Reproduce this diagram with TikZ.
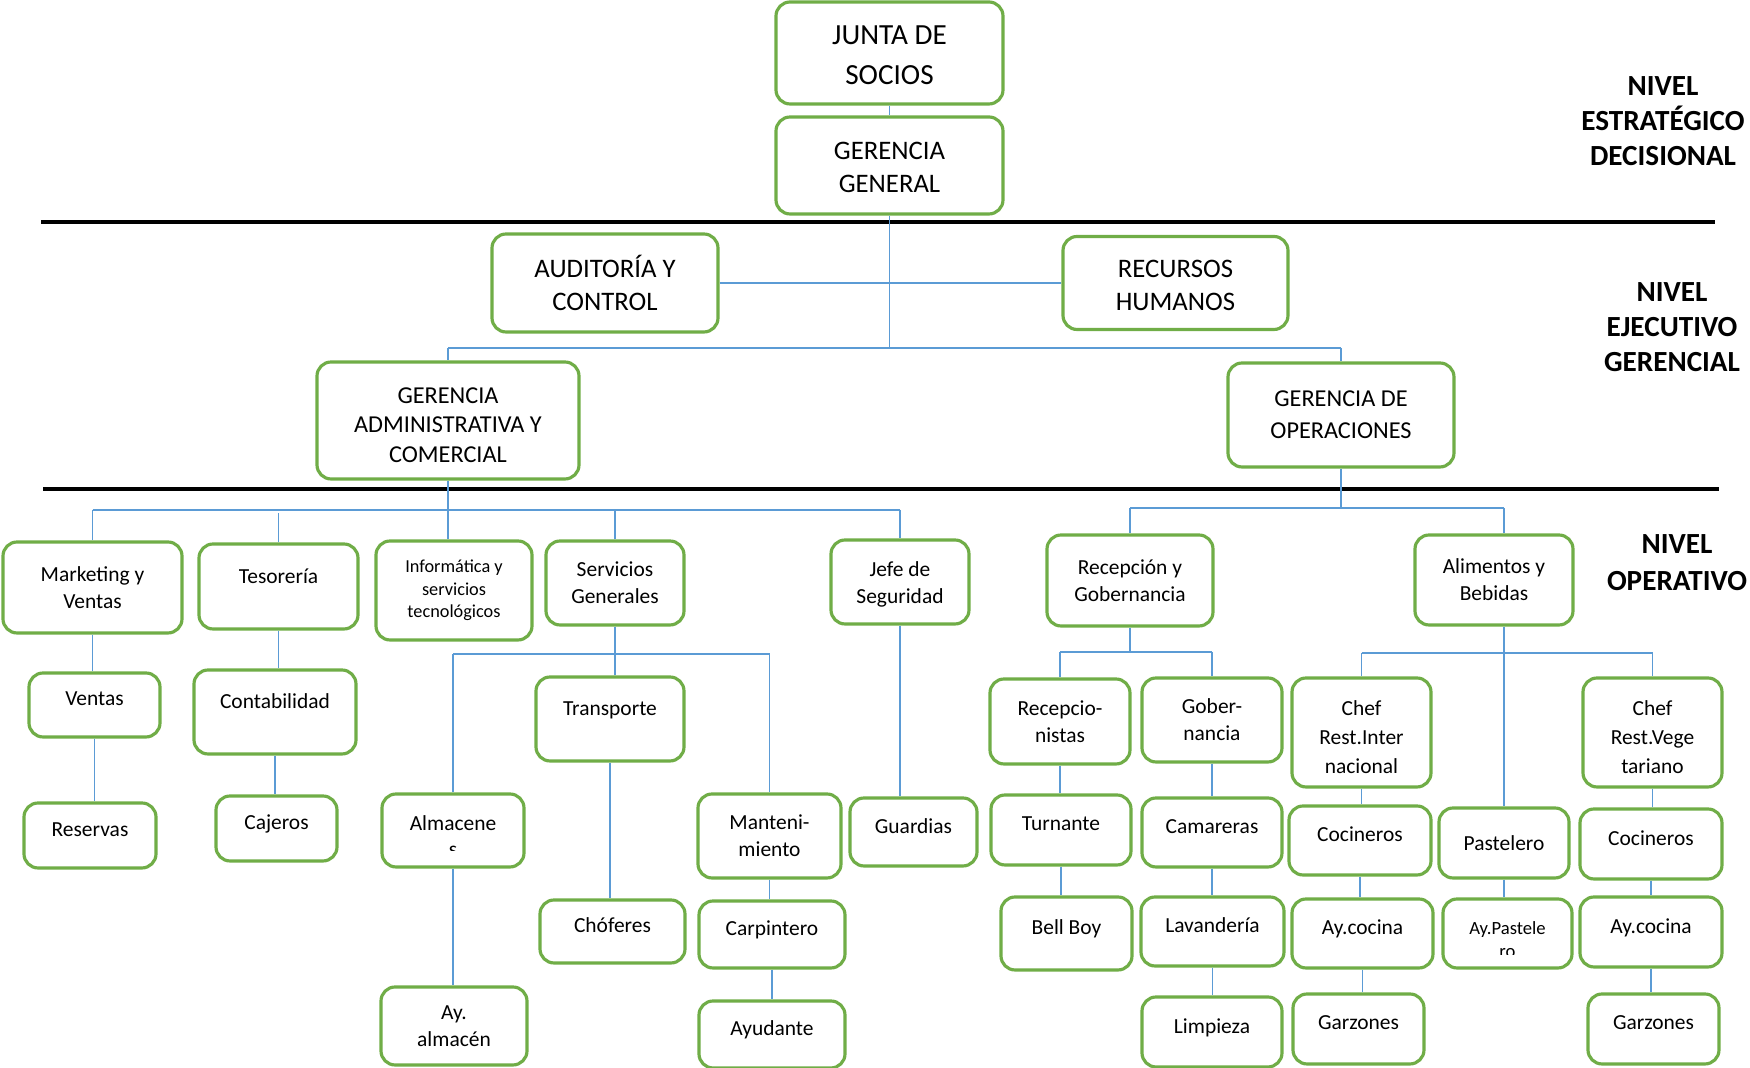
\documentclass[tikz,border=0pt]{standalone}
\usepackage{fontspec}
\setmainfont{Carlito}
\definecolor{boxgreen}{HTML}{70AD47}
\definecolor{linkblue}{HTML}{5B9BD5}
\newcommand{\tall}[1]{\rule{0pt}{#1}}
\tikzset{box/.style={rectangle,draw=boxgreen,line width=0.9pt,rounded corners=4pt,fill=white,align=center,inner sep=1pt}}
\tikzset{sz/.style 2 args={minimum width=#1*0.01cm,minimum height=#2*0.01cm}}
\tikzset{topfont/.style={font=\fontsize{7.6}{9.4}\selectfont}}
\tikzset{lowfont/.style={font=\fontsize{6.1}{7.7}\selectfont}}
\tikzset{cheffont/.style={font=\fontsize{6.1}{8.2}\selectfont}}
\tikzset{lift/.style={text depth=#1},lift/.default=3.4pt}
\tikzset{link/.style={draw=linkblue,line width=0.5pt}}
\tikzset{bus/.style={draw=linkblue,line width=0.65pt}}
\tikzset{rule/.style={draw=black,line width=1.1pt}}
\tikzset{lvl/.style={align=center,font=\bfseries\fontsize{8.3}{10}\selectfont}}

\begin{document}
\begin{tikzpicture}[x=0.01cm,y=-0.01cm]
      \useasboundingbox (0,0) rectangle (1750,1068);
        \draw[rule] (41,222) -- (1715,222);
        \draw[rule] (43,489) -- (1719,489);
      \node[lvl] (lvlA) at (1663,121) {NIVEL\\ESTRATÉGICO\\DECISIONAL};
      \node[lvl] (lvlB) at (1672,327) {NIVEL\\EJECUTIVO\\GERENCIAL};
      \node[lvl,font=\bfseries\fontsize{8.3}{10.5}\selectfont] (lvlC) at (1677,563) {NIVEL\\OPERATIVO};

      \node[box,sz={227}{102},font=\fontsize{8.3}{11.1}\selectfont] (junta) at (889.5,53) {\tall{6.6pt}JUNTA DE\\SOCIOS};
      \node[box,sz={227}{97},topfont] (gg) at (889.5,165.5) {\tall{6.2pt}GERENCIA\\GENERAL};
      \node[box,sz={226}{98},topfont] (audit) at (605,283) {AUDITORÍA Y\\CONTROL};
      \node[box,sz={225}{93},topfont] (rrhh) at (1175.5,283) {\tall{6.2pt}RECURSOS\\HUMANOS};
      \node[box,sz={262}{117},font=\fontsize{6.9}{8.4}\selectfont] (gac) at (448,420.5) {\tall{7pt}GERENCIA\\ADMINISTRATIVA Y\\COMERCIAL};
      \node[box,sz={226}{104},font=\fontsize{6.9}{9.1}\selectfont] (gop) at (1341,415) {GERENCIA DE\\OPERACIONES};
      \coordinate (busA) at (0,348);
        \draw[link] (junta) -- (gg);
        \draw[link] (gg.south) -- (gg.south |- busA);
        \draw[link] (audit) -- (rrhh);
        \draw[bus] (gac.north |- busA) -- (gop.north |- busA);
        \draw[link] (gac.north |- busA) -- (gac.north);
        \draw[link] (gop.north |- busA) -- (gop.north);

      \node[box,sz={179}{91},lowfont] (mkt) at (92.5,587.5) {Marketing y\\Ventas};
      \node[box,sz={159}{85},lowfont,lift=6pt] (teso) at (278.5,586.5) {Tesorería};
      \node[box,sz={156}{99},font=\fontsize{5.2}{6.4}\selectfont] (info) at (454,590.5) {Informática y\\servicios\\tecnológicos};
      \node[box,sz={138}{84},lowfont] (sg) at (615,583) {Servicios\\Generales};
      \node[box,sz={138}{84},lowfont] (jefe) at (900,582) {\tall{5.6pt}Jefe de\\Seguridad};
      \node[box,sz={131}{64},lowfont,lift] (ventas) at (94.5,705) {Ventas};
      \node[box,sz={132}{65},lowfont,lift] (reservas) at (90,835.5) {Reservas};
      \node[box,sz={162}{84},lowfont,lift=6pt] (conta) at (275,712) {Contabilidad};
      \node[box,sz={121}{65},lowfont,lift] (cajeros) at (276.5,828.5) {Cajeros};
      \node[box,sz={148}{84},lowfont,lift=6pt] (transp) at (610,719) {Transporte};
      \node[box,sz={142}{73},font=\fontsize{6.1}{7.4}\selectfont] (almac) at (453,830.5) {\tall{7.7pt}Almacene\\s};
      \node[box,sz={146}{78},lowfont] (ayalm) at (454,1026) {Ay.\\almacén};
      \node[box,sz={145}{63},lowfont,lift] (chofer) at (612.5,931.5) {Chóferes};
      \node[box,sz={143}{84},lowfont] (mant) at (769.5,836) {Manteni-\\miento};
      \node[box,sz={146}{67},lowfont,lift] (carp) at (772,934.5) {Carpintero};
      \node[box,sz={146}{67},lowfont,lift] (ayud) at (772,1034.5) {Ayudante};
      \node[box,sz={127}{68},lowfont,lift] (guard) at (913.5,832) {Guardias};
      \fill[white] (425,851) rectangle (481,862);
      \coordinate (busB) at (0,510);
      \coordinate (busC) at (0,654);
        \draw[link] (gac.south) -- (gac.south |- info.north);
        \draw[bus] (mkt.north |- busB) -- (jefe.north |- busB);
        \draw[link] (mkt.north |- busB) -- (mkt.north);
        \draw[link] (jefe.north |- busB) -- (jefe.north);
        \draw[link] (teso.north) -- ++(0,-29);
        \draw[link] (sg.north) -- ++(0,-28);
        \draw[link] (mkt.south) -- (mkt.south |- ventas.north);
        \draw[link] (ventas.south) -- (ventas.south |- reservas.north);
        \draw[link] (teso.south) -- (teso.south |- conta.north);
        \draw[link] (conta.south) -- (conta.south |- cajeros.north);
        \draw[link] (sg.south) -- (sg.south |- transp.north);
        \draw[bus] (almac.north |- busC) -- (mant.north |- busC);
        \draw[link] (almac.north |- busC) -- (almac.north);
        \draw[link] (mant.north |- busC) -- (mant.north);
        \draw[link] (transp.south) -- (transp.south |- chofer.north);
        \draw[link] (almac.south) -- (almac.south |- ayalm.north);
        \draw[link] (mant.south) -- (mant.south |- carp.north);
        \draw[link] (carp.south) -- (carp.south |- ayud.north);
        \draw[link] (jefe.south) -- (jefe.south |- guard.north);

      \node[box,sz={166}{91},lowfont] (recg) at (1130,580.5) {Recepción y\\Gobernancia};
      \node[box,sz={158}{90},lowfont] (ayb) at (1494,580) {Alimentos y\\Bebidas};
      \node[box,sz={140}{85},lowfont] (recep) at (1060,721.5) {Recepcio-\\nistas};
      \node[box,sz={140}{84},lowfont] (gober) at (1212,720) {Gober-\\nancia};
      \node[box,sz={139}{109},cheffont] (chefi) at (1361.5,732.5) {\tall{7pt}Chef\\Rest.Inter\\nacional};
      \node[box,sz={139}{109},cheffont] (chefv) at (1652.5,732.5) {\tall{7pt}Chef\\Rest.Vege\\tariano};
      \node[box,sz={140}{70},lowfont,lift] (turn) at (1061,830) {Turnante};
      \node[box,sz={140}{69},lowfont,lift] (cama) at (1212,832.5) {Camareras};
      \node[box,sz={142}{69},lowfont,lift] (coci) at (1360,840.5) {Cocineros};
      \node[box,sz={130}{70},lowfont] (paste) at (1504,843) {Pastelero};
      \node[box,sz={142}{70},lowfont,lift] (cocv) at (1651,844) {Cocineros};
      \node[box,sz={131}{73},lowfont,lift] (bell) at (1066.5,933.5) {Bell Boy};
      \node[box,sz={143}{69},lowfont,lift] (lav) at (1212.5,931.5) {Lavandería};
      \node[box,sz={141}{69},lowfont,lift] (ayci) at (1362.5,933.5) {Ay.cocina};
      \node[box,sz={129}{69},font=\fontsize{5.3}{6.7}\selectfont] (aypas) at (1507.5,933.5) {\tall{7.2pt}Ay.Pastele\\ro};
      \node[box,sz={142}{70},lowfont,lift] (aycv) at (1651,932) {Ay.cocina};
      \node[box,sz={140}{70},lowfont,lift] (limp) at (1212,1032) {Limpieza};
      \node[box,sz={131}{70},lowfont,lift] (garzi) at (1358.5,1029) {Garzones};
      \node[box,sz={131}{70},lowfont,lift] (garzv) at (1653.5,1029) {Garzones};
      \fill[white] (1480,955) rectangle (1535,964);
      \coordinate (busD) at (0,508);
      \coordinate (busE) at (0,652);
      \coordinate (busF) at (0,653);
        \draw[link] (gop.south) -- (gop.south |- busD);
        \draw[bus] (recg.north |- busD) -- (paste.north |- busD);
        \draw[link] (recg.north |- busD) -- (recg.north);
        \draw[link] (paste.north |- busD) -- (paste.north |- ayb.north);
        \draw[link] (paste.north |- ayb.south) -- (paste.north);
        \draw[link] (recg.south) -- (recg.south |- busE);
        \draw[bus] (recep.north |- busE) -- (gober.north |- busE);
        \draw[link] (recep.north |- busE) -- (recep.north);
        \draw[link] (gober.north |- busE) -- (gober.north);
        \draw[link] (recep.south) -- (recep.south |- turn.north);
        \draw[link] (turn.south) -- (turn.south |- bell.north);
        \draw[link] (gober.south) -- (gober.south |- cama.north);
        \draw[link] (cama.south) -- (cama.south |- lav.north);
        \draw[link] (lav.south) -- (lav.south |- limp.north);
        \draw[bus] (chefi.north |- busF) -- (chefv.north |- busF);
        \draw[link] (chefi.north |- busF) -- (chefi.north);
        \draw[link] (chefv.north |- busF) -- (chefv.north);
        \draw[link] (chefi.south) -- (chefi.south |- coci.north);
        \draw[link] (coci.south) -- (coci.south |- ayci.north);
        \draw[link] (ayci.south) -- (ayci.south |- garzi.north);
        \draw[link] (chefv.south) -- (chefv.south |- cocv.north);
        \draw[link] (cocv.south) -- (cocv.south |- aycv.north);
        \draw[link] (aycv.south) -- (aycv.south |- garzv.north);
        \draw[link] (paste.south) -- (paste.south |- aypas.north);
    \end{tikzpicture}
\end{document}
